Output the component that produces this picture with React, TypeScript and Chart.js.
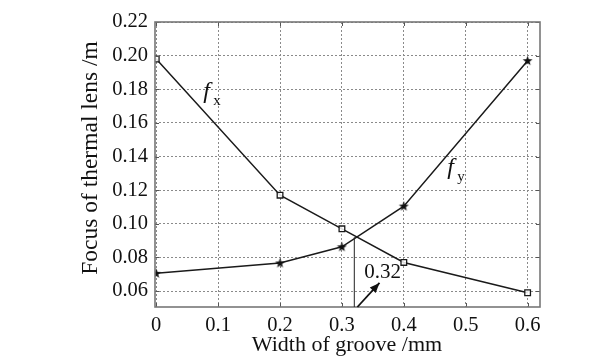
import React, { useEffect, useRef } from 'react';
import { Chart, registerables } from 'chart.js';

Chart.register(...registerables);

const grooveWidths = [0, 0.2, 0.3, 0.4, 0.6];
const fxValues = [0.198, 0.117, 0.097, 0.077, 0.059];
const fyValues = [0.0705, 0.0767, 0.0863, 0.1105, 0.197];
const xTicks = [0, 0.1, 0.2, 0.3, 0.4, 0.5, 0.6];
const yTicks = [0.06, 0.08, 0.1, 0.12, 0.14, 0.16, 0.18, 0.2, 0.22];
const crossPoint = [0.32, 0.092];
const arrowFrom = [0.325, 0.0505];
const arrowTo = [0.3607, 0.0648];
const crossLabel = '0.32';
const crossLabelPos = [0.336, 0.0676];
const fxLabelPos = [0.076, 0.1748];
const fyLabelPos = [0.47, 0.1297];
const xTitle = 'Width of groove /mm';
const yTitle = 'Focus of thermal lens /m';

const SERIF = '"Liberation Serif", "DejaVu Serif", serif';

function makeStar(): HTMLCanvasElement {
  const c = document.createElement('canvas');
  c.width = 11;
  c.height = 11;
  const g = c.getContext('2d')!;
  const cx = 5.5, cy = 5.8, R = 5.2, r = 2.1;
  g.beginPath();
  for (let i = 0; i < 10; i++) {
    const a = -Math.PI / 2 + (i * Math.PI) / 5;
    const rad = i % 2 === 0 ? R : r;
    const px = cx + rad * Math.cos(a);
    const py = cy + rad * Math.sin(a);
    if (i === 0) g.moveTo(px, py);
    else g.lineTo(px, py);
  }
  g.closePath();
  g.fillStyle = '#111';
  g.fill();
  return c;
}

const overlayPlugin = {
  id: 'overlay',
  afterDatasetsDraw(chart: any) {
    const ctx = chart.ctx as CanvasRenderingContext2D;
    const xs = chart.scales.x;
    const ys = chart.scales.y;
    const a = chart.chartArea;
    ctx.save();
    // tick marks inward
    ctx.strokeStyle = '#555';
    ctx.lineWidth = 1;
    ctx.setLineDash([]);
    const tl = 4;
    xTicks.forEach((v) => {
      const px = Math.round(xs.getPixelForValue(v)) + 0.5;
      ctx.beginPath();
      ctx.moveTo(px, a.bottom);
      ctx.lineTo(px, a.bottom - tl);
      ctx.moveTo(px, a.top);
      ctx.lineTo(px, a.top + tl);
      ctx.stroke();
    });
    yTicks.forEach((v) => {
      const py = Math.round(ys.getPixelForValue(v)) + 0.5;
      ctx.beginPath();
      ctx.moveTo(a.left, py);
      ctx.lineTo(a.left + tl, py);
      ctx.moveTo(a.right, py);
      ctx.lineTo(a.right - tl, py);
      ctx.stroke();
    });
    // frame
    ctx.strokeStyle = '#777';
    ctx.lineWidth = 1.6;
    ctx.strokeRect(a.left, a.top, a.right - a.left, a.bottom - a.top);

    // vertical line from crossing point
    ctx.strokeStyle = '#222';
    ctx.lineWidth = 1;
    const cx = xs.getPixelForValue(crossPoint[0]);
    const cy = ys.getPixelForValue(crossPoint[1]);
    ctx.beginPath();
    ctx.moveTo(cx, cy);
    ctx.lineTo(cx, a.bottom);
    ctx.stroke();

    // arrow
    const x1 = xs.getPixelForValue(arrowFrom[0]);
    const y1 = ys.getPixelForValue(arrowFrom[1]);
    const x2 = xs.getPixelForValue(arrowTo[0]);
    const y2 = ys.getPixelForValue(arrowTo[1]);
    ctx.lineWidth = 1.8;
    ctx.strokeStyle = '#111';
    ctx.beginPath();
    ctx.moveTo(x1, y1);
    ctx.lineTo(x2, y2);
    ctx.stroke();
    const ang = Math.atan2(y2 - y1, x2 - x1);
    const hl = 10, hw = 4;
    ctx.fillStyle = '#111';
    ctx.beginPath();
    ctx.moveTo(x2, y2);
    ctx.lineTo(x2 - hl * Math.cos(ang) + hw * Math.sin(ang), y2 - hl * Math.sin(ang) - hw * Math.cos(ang));
    ctx.lineTo(x2 - hl * Math.cos(ang) - hw * Math.sin(ang), y2 - hl * Math.sin(ang) + hw * Math.cos(ang));
    ctx.closePath();
    ctx.fill();

    // labels
    ctx.fillStyle = '#111';
    ctx.textBaseline = 'alphabetic';
    ctx.textAlign = 'left';
    ctx.font = `21px ${SERIF}`;
    ctx.fillText(crossLabel, xs.getPixelForValue(crossLabelPos[0]), ys.getPixelForValue(crossLabelPos[1]));

    const drawF = (pos: number[], sub: string) => {
      const px = xs.getPixelForValue(pos[0]);
      const py = ys.getPixelForValue(pos[1]);
      ctx.font = `italic 24px ${SERIF}`;
      ctx.fillText('f', px, py);
      ctx.font = `15px ${SERIF}`;
      ctx.fillText(sub, px + 10, py + 7);
    };
    drawF(fxLabelPos, 'x');
    drawF(fyLabelPos, 'y');

    // axis titles
    ctx.font = `22px ${SERIF}`;
    ctx.textAlign = 'center';
    ctx.textBaseline = 'middle';
    ctx.fillText(xTitle, 347, 345);
    ctx.save();
    ctx.font = `23.5px ${SERIF}`;
    ctx.translate(91, 158);
    ctx.rotate(-Math.PI / 2);
    ctx.fillText(yTitle, 0, 0);
    ctx.restore();
    ctx.restore();
  },
};

export default function App() {
  const ref = useRef<HTMLCanvasElement | null>(null);
  useEffect(() => {
    if (!ref.current) return;
    const star = makeStar();
    const chart = new Chart(ref.current, {
      type: 'scatter',
      data: {
        datasets: [
          {
            label: 'fx',
            data: grooveWidths.map((x, i) => ({ x, y: fxValues[i] })),
            showLine: true,
            borderColor: '#1a1a1a',
            borderWidth: 1.5,
            pointStyle: 'rect',
            pointRadius: 4,
            pointBorderWidth: 1.3,
            pointBorderColor: '#1a1a1a',
            pointBackgroundColor: 'rgba(255,255,255,0.85)',
          },
          {
            label: 'fy',
            data: grooveWidths.map((x, i) => ({ x, y: fyValues[i] })),
            showLine: true,
            borderColor: '#1a1a1a',
            borderWidth: 1.5,
            pointStyle: star as any,
            pointRadius: 5,
          },
        ],
      },
      options: {
        responsive: false,
        animation: false,
        events: [],
        layout: { padding: { left: 0, top: 22, right: 73, bottom: 0 } },
        plugins: { legend: { display: false }, tooltip: { enabled: false } },
        scales: {
          x: {
            type: 'linear',
            min: -0.002,
            max: 0.62,
            afterBuildTicks: (s: any) => {
              s.ticks = xTicks.map((v) => ({ value: v }));
            },
            afterFit: (s: any) => {
              s.height = 49;
            },
            ticks: {
              color: '#111',
              font: { family: SERIF, size: 20.5 },
              padding: 6,
              maxRotation: 0,
              autoSkip: false,
              callback: (v: any) => String(Math.round(Number(v) * 10) / 10),
            },
            grid: { color: '#8a8a8a', lineWidth: 1, drawTicks: false },
            border: { display: false, dash: [2, 2] },
          },
          y: {
            type: 'linear',
            min: 0.0505,
            max: 0.22,
            afterBuildTicks: (s: any) => {
              s.ticks = yTicks.map((v) => ({ value: v }));
            },
            afterFit: (s: any) => {
              s.width = 155;
            },
            ticks: {
              color: '#111',
              font: { family: SERIF, size: 20.5 },
              padding: 7,
              autoSkip: false,
              callback: (v: any) => Number(v).toFixed(2),
            },
            grid: { color: '#8a8a8a', lineWidth: 1, drawTicks: false },
            border: { display: false, dash: [2, 2] },
          },
        },
      },
      plugins: [overlayPlugin],
    });
    return () => chart.destroy();
  }, []);
  return (
    <div style={{ position: 'fixed', left: 0, top: 0, width: 613, height: 356, background: '#fff' }}>
      <canvas ref={ref} width={613} height={356} style={{ display: 'block' }} />
    </div>
  );
}
